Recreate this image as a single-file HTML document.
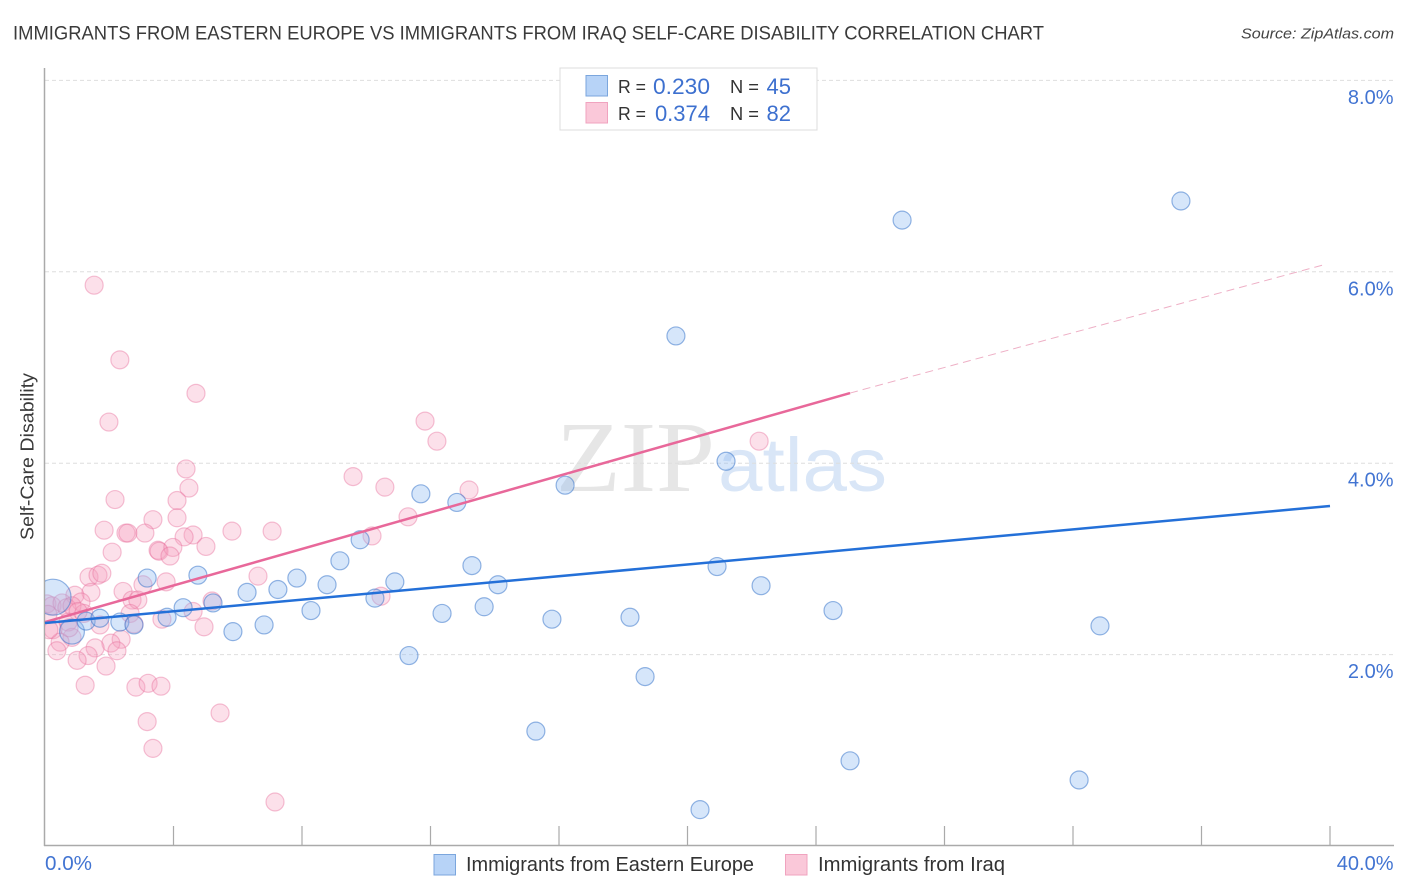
<!DOCTYPE html>
<html>
<head>
<meta charset="utf-8">
<title>Immigrants from Eastern Europe vs Immigrants from Iraq Self-Care Disability Correlation Chart</title>
<style>
html,body{margin:0;padding:0;background:#fff;}
svg{display:block;font-family:"Liberation Sans",sans-serif;}
</style>
</head>
<body>
<svg id="chart" width="1406" height="892" viewBox="0 0 1406 892" xmlns="http://www.w3.org/2000/svg">
  <defs><clipPath id="plot-clip"><rect x="45" y="60" width="1350" height="786"/></clipPath></defs>
  <text x="13" y="39.5" font-size="19.5" fill="#3a3a3a" textLength="1031" lengthAdjust="spacingAndGlyphs">IMMIGRANTS FROM EASTERN EUROPE VS IMMIGRANTS FROM IRAQ SELF-CARE DISABILITY CORRELATION CHART</text>
  <text x="1241" y="38.5" font-size="15" font-style="italic" fill="#444" textLength="153" lengthAdjust="spacingAndGlyphs">Source: ZipAtlas.com</text>
  <g>
    <text x="556" y="491" font-family="'Liberation Serif',serif" font-size="101" fill="#e6e6e6" textLength="159" lengthAdjust="spacingAndGlyphs">ZIP</text>
    <text x="718" y="491" font-size="76" fill="#d9e6f7" textLength="169" lengthAdjust="spacingAndGlyphs">atlas</text>
  </g>
  <g id="grid"></g>
  <g id="axes"></g>
  <g id="pink-points" clip-path="url(#plot-clip)"></g>
  <g id="blue-points" clip-path="url(#plot-clip)"></g>
  <g id="trends"></g>
  <g id="labels"></g>
  <text transform="translate(33.5,456.5) rotate(-90)" font-size="18.5" fill="#3a3a3a" text-anchor="middle" textLength="167" lengthAdjust="spacingAndGlyphs">Self-Care Disability</text>

  <g>
    <rect x="560" y="68" width="257" height="62" fill="#fff" stroke="#dcdcdc" stroke-width="1"/>
    <rect x="586" y="75.5" width="21.5" height="20.5" fill="#b7d3f7" stroke="#7ba6dd"/>
    <rect x="586" y="102.5" width="21.5" height="20.5" fill="#fac8d9" stroke="#f0a3bf"/>
    <text x="618" y="93" font-size="18.5" fill="#333" textLength="28" lengthAdjust="spacingAndGlyphs">R =</text>
    <text x="653" y="94" font-size="22" fill="#3d70cf" textLength="57" lengthAdjust="spacingAndGlyphs">0.230</text>
    <text x="730" y="93" font-size="18.5" fill="#333" textLength="29" lengthAdjust="spacingAndGlyphs">N =</text>
    <text x="791" y="94" font-size="22" fill="#3d70cf" text-anchor="end">45</text>
    <text x="618" y="120" font-size="18.5" fill="#333" textLength="28" lengthAdjust="spacingAndGlyphs">R =</text>
    <text x="710" y="121" font-size="22" fill="#3d70cf" text-anchor="end">0.374</text>
    <text x="730" y="120" font-size="18.5" fill="#333" textLength="29" lengthAdjust="spacingAndGlyphs">N =</text>
    <text x="791" y="121" font-size="22" fill="#3d70cf" text-anchor="end">82</text>
  </g>

  <g>
    <rect x="434" y="854.5" width="21.5" height="20.5" fill="#b7d3f7" stroke="#7ba6dd"/>
    <text x="466" y="871" font-size="20" fill="#333" textLength="288" lengthAdjust="spacingAndGlyphs">Immigrants from Eastern Europe</text>
    <rect x="785.5" y="854.5" width="21.5" height="20.5" fill="#fac8d9" stroke="#f0a3bf"/>
    <text x="818" y="871" font-size="20" fill="#333" textLength="187" lengthAdjust="spacingAndGlyphs">Immigrants from Iraq</text>
  </g>
</svg>
<script>
const yTicks = [2, 4, 6, 8];
const yTickLabels = ["2.0%", "4.0%", "6.0%", "8.0%"];
const xTicks = [4, 8, 12, 16, 20, 24, 28, 32, 36, 40];
const xEndLabels = ["0.0%", "40.0%"];

const blueX = [0.25,0.84,1.28,1.71,2.33,2.77,3.18,3.80,4.30,4.76,5.23,5.85,6.29,6.82,7.25,7.84,8.28,8.78,9.18,9.81,10.27,10.89,11.33,11.70,12.36,12.82,13.29,13.67,14.10,15.28,15.78,16.19,18.21,18.68,19.64,20.39,20.92,21.20,22.29,24.53,25.06,26.68,32.19,32.84,35.36];
const blueY = [2.60,2.24,2.35,2.38,2.34,2.31,2.80,2.39,2.49,2.83,2.54,2.24,2.65,2.31,2.68,2.80,2.46,2.73,2.98,3.20,2.59,2.76,1.99,3.68,2.43,3.59,2.93,2.50,2.73,1.20,2.37,3.77,2.39,1.77,5.33,0.38,2.92,4.02,2.72,2.46,0.89,6.54,0.69,2.30,6.74];
const bluePopulation = [4,1.9,1,1,1,1,1,1,1,1,1,1,1,1,1,1,1,1,1,1,1,1,1,1,1,1,1,1,1,1,1,1,1,1,1,1,1,1,1,1,1,1,1,1,1];

const pinkX = [1.53,2.33,1.99,4.70,11.83,12.20,22.23,4.39,4.48,4.11,2.18,4.11,3.36,1.84,2.52,2.58,3.11,4.61,4.33,5.82,7.07,5.01,2.09,3.52,3.55,3.98,3.89,9.59,10.58,13.20,11.30,10.18,1.37,1.65,1.77,3.77,6.63,3.05,2.43,1.43,0.93,2.71,2.89,1.12,5.20,10.46,0.06,0.22,0.53,0.68,0.84,1.21,1.03,0.09,2.65,4.61,3.64,2.77,4.95,1.71,0.72,0.25,0.84,0.47,0.37,2.37,2.05,1.56,1.34,2.24,1.00,1.90,1.25,2.83,3.21,3.61,5.45,3.18,3.36,7.16,0.12,0.75];
const pinkY = [5.86,5.08,4.43,4.73,4.44,4.23,4.23,3.94,3.74,3.61,3.62,3.43,3.41,3.30,3.27,3.27,3.27,3.25,3.23,3.29,3.29,3.13,3.07,3.09,3.08,3.12,3.03,3.86,3.75,3.72,3.44,3.24,2.81,2.83,2.85,2.76,2.82,2.73,2.66,2.65,2.62,2.57,2.57,2.55,2.56,2.61,2.53,2.51,2.54,2.49,2.51,2.43,2.45,2.42,2.43,2.45,2.37,2.32,2.29,2.31,2.34,2.26,2.18,2.13,2.04,2.16,2.12,2.07,1.99,2.04,1.94,1.88,1.68,1.66,1.70,1.67,1.39,1.30,1.02,0.46,2.26,2.28];

const blueTrendX = [0, 40];
const blueTrendY = [2.33, 3.553];
const pinkTrendX = [0, 25.06];
const pinkTrendY = [2.34, 4.733];
const pinkExtendX = [25.06, 39.88];
const pinkExtendY = [4.733, 6.08];

const NS = "http://www.w3.org/2000/svg";
function xScale(v) { return 45 + v * 32.125; }
function yScale(v) { return 846 - v * 95.7; }
function rScale(p) { return 9 * Math.sqrt(p); }

function make(tag, parent, attrs) {
  const el = document.createElementNS(NS, tag);
  for (const k in attrs) el.setAttribute(k, attrs[k]);
  document.getElementById(parent).appendChild(el);
  return el;
}

yTicks.forEach(function (t, i) {
  const g = make("line", "grid", {x1: 45, x2: 1394, y1: yScale(t), y2: yScale(t), stroke: "#dedede", "stroke-width": 1, "stroke-dasharray": "4 3"});
  
  
  const lab = make("text", "labels", {x: 1393.5, y: yScale(t) + 23.5, "font-size": 20, fill: "#4274d2", "text-anchor": "end"});
  lab.textContent = yTickLabels[i];
  
  
});

const yAxisLine = make("line", "axes", {x1: 44.5, x2: 44.5, y1: 68, y2: 846, stroke: "#aaaaaa", "stroke-width": 1.5});


const xAxisLine = make("line", "axes", {x1: 44, x2: 1394, y1: 845.5, y2: 845.5, stroke: "#aaaaaa", "stroke-width": 1.5});


xTicks.forEach(function (t) {
  const tick = make("line", "axes", {x1: xScale(t), x2: xScale(t), y1: 826, y2: 846, stroke: "#aaaaaa", "stroke-width": 1.2});
  
  
});

const xLabLeft = make("text", "labels", {x: 45, y: 870, "font-size": 20, fill: "#4274d2", textLength: 47, lengthAdjust: "spacingAndGlyphs"});
xLabLeft.textContent = xEndLabels[0];


const xLabRight = make("text", "labels", {x: 1393.5, y: 870, "font-size": 20, fill: "#4274d2", "text-anchor": "end"});
xLabRight.textContent = xEndLabels[1];



pinkX.forEach(function (v, i) {
  const c = make("circle", "pink-points", {cx: xScale(v), cy: yScale(pinkY[i]), r: 9, fill: "rgba(246,160,190,0.32)", stroke: "rgba(232,110,155,0.42)", "stroke-width": 1.2});
  
  
});
blueX.forEach(function (v, i) {
  const c = make("circle", "blue-points", {cx: xScale(v), cy: yScale(blueY[i]), r: rScale(bluePopulation[i]), fill: "rgba(140,185,240,0.36)", stroke: "rgba(45,110,200,0.5)", "stroke-width": 1.2});
  
  
});

const pinkTrend = make("line", "trends", {x1: xScale(pinkTrendX[0]), y1: yScale(pinkTrendY[0]), x2: xScale(pinkTrendX[1]), y2: yScale(pinkTrendY[1]), stroke: "#e8689a", "stroke-width": 2.5});


const pinkExtend = make("line", "trends", {x1: xScale(pinkExtendX[0]), y1: yScale(pinkExtendY[0]), x2: xScale(pinkExtendX[1]), y2: yScale(pinkExtendY[1]), stroke: "#eeb0c6", "stroke-width": 1, "stroke-dasharray": "8 5"});


const blueTrend = make("line", "trends", {x1: xScale(blueTrendX[0]), y1: yScale(blueTrendY[0]), x2: xScale(blueTrendX[1]), y2: yScale(blueTrendY[1]), stroke: "#2470d8", "stroke-width": 2.5});


</script>
</body>
</html>
